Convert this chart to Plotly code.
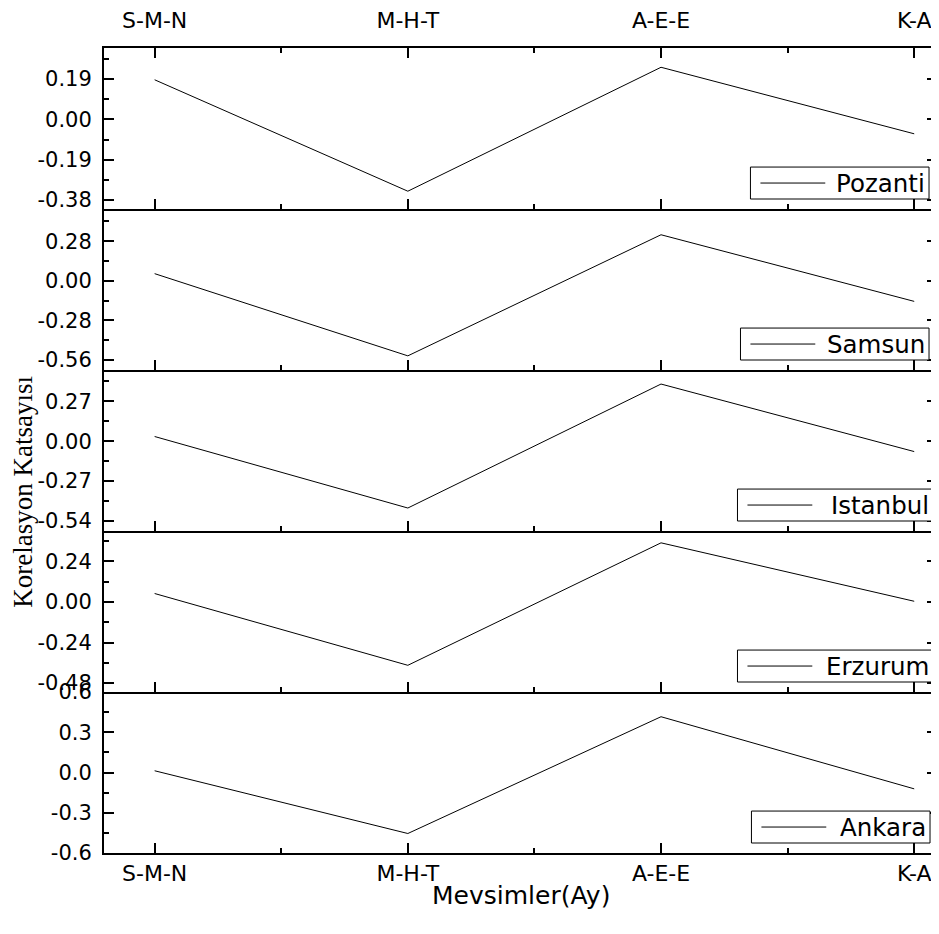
import plotly.graph_objects as go
from plotly.subplots import make_subplots

# ---- data ----
seasons = ["S-M-N", "M-H-T", "A-E-E", "K-A"]
stations = ["Pozanti", "Samsun", "Istanbul", "Erzurum", "Ankara"]
pozanti = [0.187, -0.339, 0.246, -0.068]
samsun = [0.051, -0.530, 0.326, -0.145]
istanbul = [0.032, -0.452, 0.387, -0.070]
erzurum = [0.050, -0.375, 0.350, 0.004]
ankara = [0.013, -0.455, 0.416, -0.122]
series = [pozanti, samsun, istanbul, erzurum, ankara]

y_ranges = [[-0.423, 0.337], [-0.630, 0.508], [-0.6075, 0.482], [-0.533, 0.42], [-0.6005, 0.6005]]
y_tickvals = [[-0.38, -0.19, 0.0, 0.19],
              [-0.56, -0.28, 0.0, 0.28],
              [-0.54, -0.27, 0.0, 0.27],
              [-0.48, -0.24, 0.0, 0.24],
              [-0.6, -0.3, 0.0, 0.3, 0.6]]
y_ticktext = [["-0.38", "-0.19", "0.00", "0.19"],
              ["-0.56", "-0.28", "0.00", "0.28"],
              ["-0.54", "-0.27", "0.00", "0.27"],
              ["-0.48", "-0.24", "0.00", "0.24"],
              ["-0.6", "-0.3", "0.0", "0.3", "0.6"]]
y_minor_step = [0.095, 0.14, 0.135, 0.12, 0.15]
x_title = "Mevsimler(Ay)"
y_title = "Korelasyon Katsayısı"

# ---- legend box styling (page pixels) ----
leg_left = [752, 742, 739, 739, 753]
leg_right = [931, 931, 935, 935, 932]
leg_h = 32
leg_gap = 10
leg_line_len = 65

x_pos = list(range(len(seasons)))
n = len(stations)

OFF = 8  # default page body margin
W, H = 939 - OFF, 934 - 2 * OFF
ML, MR, MT = 104 - OFF, 0, 47 - OFF
MB = H - (853 - OFF)
PW = W - ML - MR
PH = H - MT - MB


def px_x(p):
    return (p - OFF - ML) / PW


def px_y(p):
    return (H - MB - (p - OFF)) / PH


fig = make_subplots(rows=n, cols=1, shared_xaxes=False, vertical_spacing=0)

SANS = "DejaVu Sans"

for i, (name, vals) in enumerate(zip(stations, series)):
    fig.add_trace(go.Scatter(x=x_pos, y=vals, mode="lines", name=name,
                             line=dict(color="black", width=1),
                             showlegend=False),
                  row=i + 1, col=1)

    xa = dict(range=[-0.2, 3.09], tickmode="array", tickvals=x_pos, ticktext=seasons,
              ticks="inside", ticklen=10, tickwidth=2, tickcolor="black",
              showline=True, linewidth=2, linecolor="black",
              showgrid=False, zeroline=False,
              minor=dict(tickmode="array", tickvals=[0.5, 1.5, 2.5], ticks="inside",
                         ticklen=5, tickwidth=2, tickcolor="black"),
              tickfont=dict(family=SANS, size=22, color="black"),
              showticklabels=False)
    if i == 0:
        xa.update(side="top", mirror="ticks", showticklabels=True, ticklabelstandoff=9)
    if i == n - 1:
        xa.update(showticklabels=True, ticklabelstandoff=0)
    fig.update_xaxes(**xa, row=i + 1, col=1)

    fig.update_yaxes(range=y_ranges[i], tickmode="array", tickvals=y_tickvals[i],
                     ticktext=y_ticktext[i],
                     ticks="inside", ticklen=10, tickwidth=2, tickcolor="black",
                     showline=True, linewidth=2, linecolor="black", mirror="ticks",
                     showgrid=False, zeroline=False,
                     minor=dict(tickmode="linear", tick0=0, dtick=y_minor_step[i],
                                ticks="inside", ticklen=5, tickwidth=2, tickcolor="black"),
                     tickfont=dict(family=SANS, size=21, color="black"),
                     ticklabelstandoff=6,
                     row=i + 1, col=1)

# legends: one boxed entry per panel, bottom-right
for i, name in enumerate(stations):
    panel_bottom_page = 853 - (n - 1 - i) * (PH / n)
    b = panel_bottom_page - leg_gap
    t = b - leg_h
    yc = (b + t) / 2
    fig.add_shape(type="rect", xref="paper", yref="paper",
                  x0=px_x(leg_left[i]), x1=px_x(leg_right[i]), y0=px_y(b), y1=px_y(t),
                  line=dict(color="black", width=1), fillcolor="white", layer="above")
    fig.add_shape(type="line", xref="paper", yref="paper",
                  x0=px_x(leg_left[i] + 10), x1=px_x(leg_left[i] + 10 + leg_line_len),
                  y0=px_y(yc), y1=px_y(yc),
                  line=dict(color="black", width=1), layer="above")
    fig.add_annotation(text=name, xref="paper", yref="paper",
                       x=px_x(leg_right[i] - 2), y=px_y(yc), xanchor="right", yanchor="middle",
                       showarrow=False,
                       font=dict(family=SANS, size=24.5, color="black"))

fig.add_annotation(text=y_title, xref="paper", yref="paper",
                   x=px_x(23), y=px_y(491), xanchor="center", yanchor="middle",
                   textangle=-90, showarrow=False,
                   font=dict(family="Liberation Serif", size=27, color="black"))

fig.add_annotation(text=x_title, xref="paper", yref="paper",
                   x=0.5, y=px_y(896), xanchor="center", yanchor="middle",
                   showarrow=False,
                   font=dict(family=SANS, size=25, color="black"))

fig.update_layout(width=W, height=H, margin=dict(l=ML, r=MR, t=MT, b=MB),
                  paper_bgcolor="white", plot_bgcolor="white", showlegend=False)

fig.write_html("out.html")
